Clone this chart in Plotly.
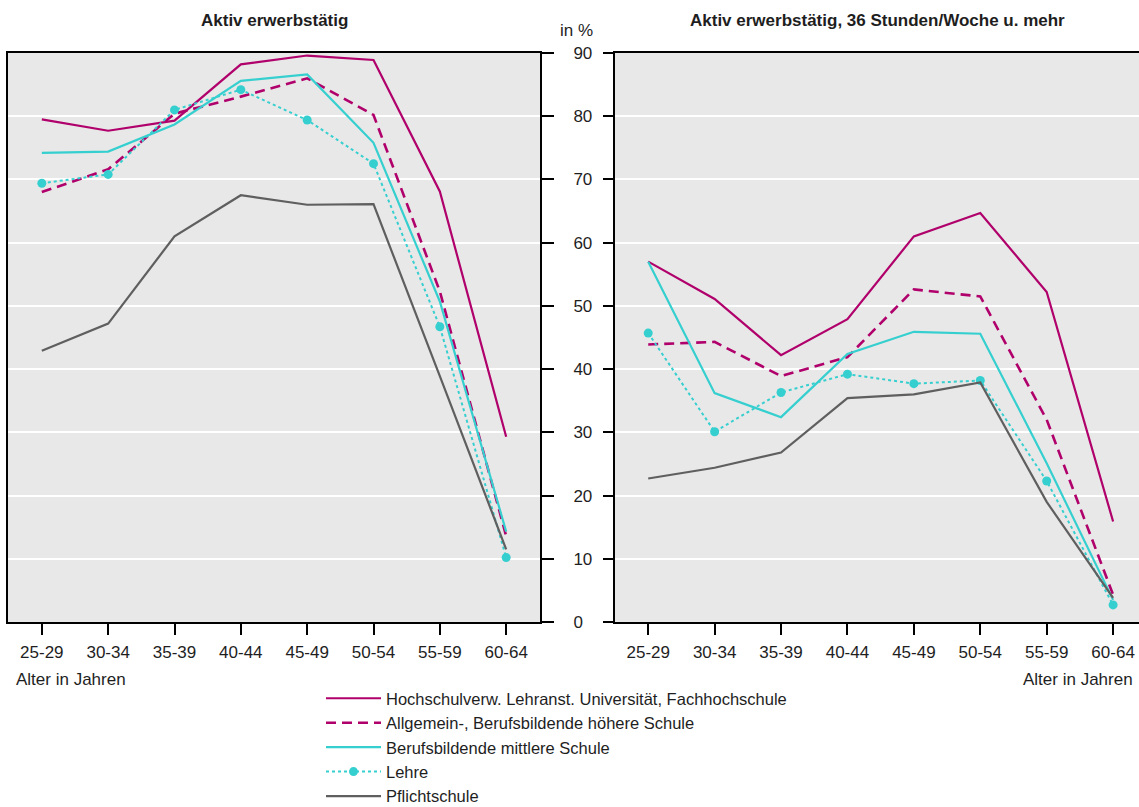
import plotly.graph_objects as go

categories = ["25-29", "30-34", "35-39", "40-44", "45-49", "50-54", "55-59", "60-64"]

# Panel 1: Aktiv erwerbstätig (in %)
hochschule_1 = [79.5, 77.7, 79.3, 88.2, 89.6, 88.9, 68.1, 29.3]
ahs_bhs_1 = [68.0, 71.6, 80.4, 83.1, 86.0, 80.2, 52.3, 13.6]
bms_1 = [74.2, 74.4, 78.7, 85.6, 86.6, 75.8, 50.7, 14.3]
lehre_1 = [69.4, 70.8, 81.0, 84.2, 79.4, 72.5, 46.7, 10.2]
pflicht_1 = [42.9, 47.2, 61.0, 67.5, 66.0, 66.1, 38.9, 11.5]

# Panel 2: Aktiv erwerbstätig, 36 Stunden/Woche u. mehr (in %)
hochschule_2 = [57.0, 51.1, 42.2, 47.9, 61.0, 64.7, 52.2, 15.9]
ahs_bhs_2 = [43.9, 44.3, 38.9, 41.9, 52.6, 51.5, 32.0, 4.3]
bms_2 = [57.0, 36.2, 32.4, 42.4, 45.9, 45.6, 25.1, 3.5]
lehre_2 = [45.7, 30.1, 36.3, 39.2, 37.7, 38.2, 22.3, 2.7]
pflicht_2 = [22.7, 24.4, 26.8, 35.4, 36.0, 37.9, 19.0, 3.8]

series_names = [
    "Hochschulverw. Lehranst. Universität, Fachhochschule",
    "Allgemein-, Berufsbildende höhere Schule",
    "Berufsbildende mittlere Schule",
    "Lehre",
    "Pflichtschule",
]
panel_titles = ["Aktiv erwerbstätig", "Aktiv erwerbstätig, 36 Stunden/Woche u. mehr"]
y_ticks = [0, 10, 20, 30, 40, 50, 60, 70, 80, 90]

MAGENTA = "#B0006B"
CYAN = "#36CFCF"
GRAY = "#5F5F5F"
FONT = "Liberation Sans, Arial, sans-serif"
TXT = "#1e1e1e"

styles = [
    dict(line=dict(color=MAGENTA, width=2.2), mode="lines"),
    dict(line=dict(color=MAGENTA, width=2.6, dash="10px,6px"), mode="lines"),
    dict(line=dict(color=CYAN, width=2.2), mode="lines"),
    dict(line=dict(color=CYAN, width=2, dash="dot"), mode="lines+markers",
         marker=dict(color=CYAN, size=9)),
    dict(line=dict(color=GRAY, width=2.2), mode="lines"),
]

fig = go.Figure()
panel1 = [hochschule_1, ahs_bhs_1, bms_1, lehre_1, pflicht_1]
panel2 = [hochschule_2, ahs_bhs_2, bms_2, lehre_2, pflicht_2]
for i, (name, vals) in enumerate(zip(series_names, panel1)):
    fig.add_trace(go.Scatter(x=categories, y=vals, name=name, xaxis="x", yaxis="y",
                             showlegend=True, **styles[i]))
for i, (name, vals) in enumerate(zip(series_names, panel2)):
    fig.add_trace(go.Scatter(x=categories, y=vals, name=name, xaxis="x2", yaxis="y2",
                             showlegend=False, **styles[i]))

W, H = 1139, 807
y_dom = [(H - 622) / H, (H - 53) / H]

common_x = dict(type="category", categoryorder="array", categoryarray=categories,
                showline=True, linecolor="black", linewidth=2, mirror=True,
                ticks="outside", ticklen=11, tickwidth=2, tickcolor="black",
                showgrid=False, ticklabelstandoff=3, automargin=False,
                tickfont=dict(family=FONT, size=17, color=TXT))
common_y = dict(range=[0, 90], tickvals=y_ticks, showline=True, linecolor="black",
                linewidth=2, ticks="outside", tickwidth=2, tickcolor="black",
                showgrid=True, gridcolor="white", gridwidth=2, zeroline=False,
                automargin=False)

fig.update_layout(
    width=W, height=H,
    margin=dict(l=0, r=0, t=0, b=0, autoexpand=False),
    paper_bgcolor="white",
    plot_bgcolor="#E8E8E8",
    font=dict(family=FONT, size=17, color=TXT),
    xaxis=dict(domain=[8 / W, 540 / W], range=[-0.51, 7.51], anchor="y", **common_x),
    xaxis2=dict(domain=[615 / W, 1.0], range=[-0.5, 7.39], anchor="y2", **common_x),
    yaxis=dict(domain=y_dom, side="right", anchor="x", mirror=True, ticklen=12,
               showticklabels=True, ticklabelstandoff=16,
               tickfont=dict(family=FONT, size=17, color=TXT), **common_y),
    yaxis2=dict(domain=y_dom, side="left", anchor="x2", mirror=False, ticklen=10,
                showticklabels=False, **common_y),
    showlegend=True,
    legend=dict(x=321 / W, y=-7 / H, xanchor="left", yanchor="bottom",
                font=dict(family=FONT, size=16.5, color=TXT),
                bgcolor="rgba(0,0,0,0)", tracegroupgap=0, itemwidth=55),
    annotations=[
        dict(text="<b>" + panel_titles[0] + "</b>", x=274 / W, y=(H - 21) / H,
             xref="paper", yref="paper", showarrow=False, xanchor="center",
             yanchor="middle", font=dict(family=FONT, size=17, color=TXT)),
        dict(text="<b>" + panel_titles[1] + "</b>", x=877 / W, y=(H - 21) / H,
             xref="paper", yref="paper", showarrow=False, xanchor="center",
             yanchor="middle", font=dict(family=FONT, size=17, color=TXT)),
        dict(text="in %", x=576 / W, y=(H - 30) / H, xref="paper", yref="paper",
             showarrow=False, xanchor="center", yanchor="middle",
             font=dict(family=FONT, size=17, color=TXT)),
        dict(text="Alter in Jahren", x=14 / W, y=(H - 679) / H, xref="paper",
             yref="paper", showarrow=False, xanchor="left", yanchor="middle",
             font=dict(family=FONT, size=17, color=TXT)),
        dict(text="Alter in Jahren", x=1135 / W, y=(H - 679) / H, xref="paper",
             yref="paper", showarrow=False, xanchor="right", yanchor="middle",
             font=dict(family=FONT, size=17, color=TXT)),
    ],
)

fig.write_html(
    "out.html",
    config={"displayModeBar": False},
    post_script="document.body.style.margin='0';document.body.style.overflow='hidden';",
)
